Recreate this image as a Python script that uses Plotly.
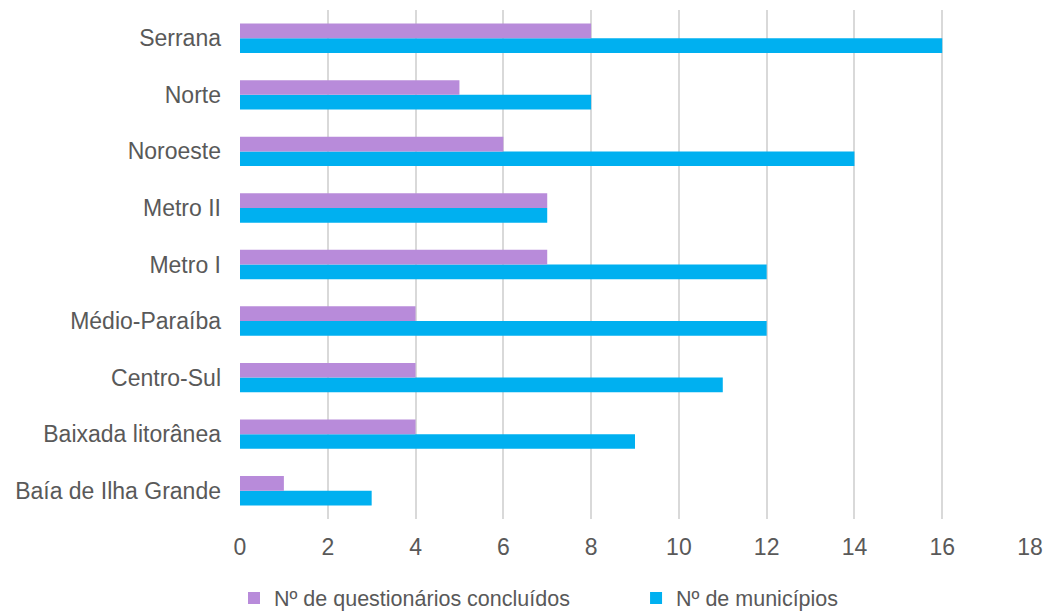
import plotly.graph_objects as go

categories = ["Baía de Ilha Grande", "Baixada litorânea", "Centro-Sul", "Médio-Paraíba",
              "Metro I", "Metro II", "Noroeste", "Norte", "Serrana"]
questionarios = [1, 4, 4, 4, 7, 7, 6, 5, 8]
municipios = [3, 9, 11, 12, 12, 7, 14, 8, 16]
xticks = [0, 2, 4, 6, 8, 10, 12, 14, 16, 18]

fig = go.Figure()
fig.add_trace(go.Bar(y=categories, x=municipios, orientation="h",
                     name="Nº de municípios", marker_color="#00B0F0",
                     marker_line_width=0, legend="legend2", showlegend=True))
fig.add_trace(go.Bar(y=categories, x=questionarios, orientation="h",
                     name="Nº de questionários concluídos", marker_color="#B88BDA",
                     marker_line_width=0, legend="legend", showlegend=True))

legend_style = dict(orientation="h", xref="container", yref="container",
                    y=0.023, xanchor="left", yanchor="middle",
                    font=dict(size=21.5, color="#595959"))

fig.update_layout(
    width=1047, height=612,
    showlegend=True,
    margin=dict(l=240, r=17, t=10, b=93, autoexpand=False),
    barmode="group", bargap=0.48, bargroupgap=0,
    plot_bgcolor="white", paper_bgcolor="white",
    font=dict(family="Liberation Sans, Arial, sans-serif", size=23, color="#595959"),
    xaxis=dict(range=[0, 18], tickvals=xticks, showgrid=True, gridcolor="#D9D9D9",
               gridwidth=1.5, zeroline=False, showline=False, ticks="", ticklen=0,
               ticklabelstandoff=12, tickfont=dict(size=23)),
    yaxis=dict(showgrid=False, ticks="", ticklen=0, showline=False,
               ticklabelstandoff=18, tickfont=dict(size=23)),
    legend=dict(x=0.2235, **legend_style),
    legend2=dict(x=0.6075, **legend_style),
)
fig.write_html("out.html")
